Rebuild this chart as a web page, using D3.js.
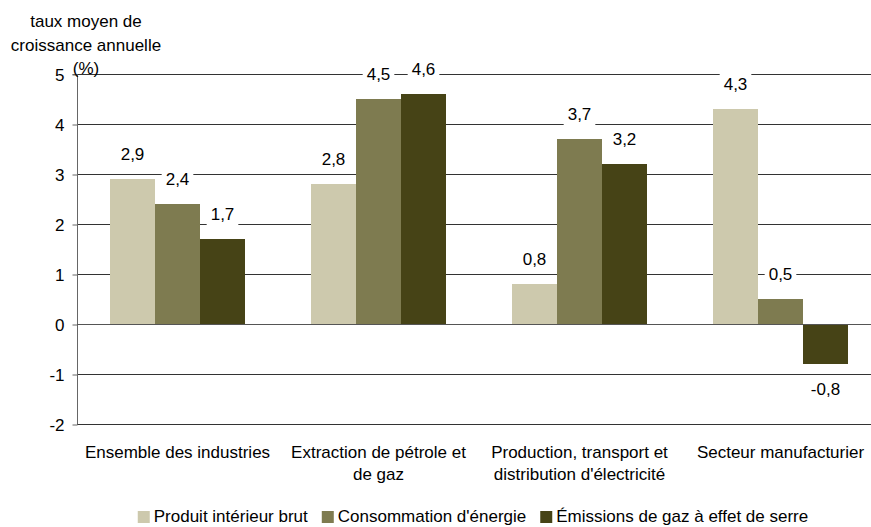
<!DOCTYPE html>
<html>
<head>
<meta charset="utf-8">
<script src="https://cdn.jsdelivr.net/npm/d3@7"></script>
<style>
  html, body { margin: 0; padding: 0; background: #fff; }
  svg { display: block; font-family: "Liberation Sans", Arial, sans-serif; }
</style>
</head>
<body>
<svg id="chart" width="871" height="527"></svg>
<script>
const categories = [
  ["Ensemble des industries"],
  ["Extraction de pétrole et", "de gaz"],
  ["Production, transport et", "distribution d'électricité"],
  ["Secteur manufacturier"]
];
const seriesNames = ["Produit intérieur brut", "Consommation d'énergie", "Émissions de gaz à effet de serre"];
const pib = [2.9, 2.8, 0.8, 4.3];
const energie = [2.4, 4.5, 3.7, 0.5];
const emissions = [1.7, 4.6, 3.2, -0.8];
const yTicks = [-2, -1, 0, 1, 2, 3, 4, 5];
const yTitle = ["taux moyen de", "croissance annuelle", "(%)"];
const colors = ["#cdc9ad", "#7e7b50", "#464316"];

const seriesValues = [pib, energie, emissions];
const svg = d3.select("#chart");
const FS = 17;

const catKeys = categories.map((c, i) => i);
const x = d3.scaleBand().domain(catKeys).range([77, 881]).padding(0);
const xs = d3.scaleBand().domain(d3.range(seriesNames.length)).range([33, 168]).padding(0);
const y = d3.scaleLinear().domain([-2, 5]).range([424, 74]);

// gridlines
svg.append("g").selectAll("line").data(yTicks).join("line")
  .attr("x1", 77).attr("x2", 881)
  .attr("y1", d => Math.round(y(d)) + 0.5).attr("y2", d => Math.round(y(d)) + 0.5)
  .attr("stroke", d => d === 0 ? "#555" : "#333").attr("stroke-width", 1);

// y axis
const yAxis = d3.axisLeft(y).tickValues(yTicks).tickSize(5).tickPadding(8)
  .tickFormat(d => d3.format("d")(d).replace("−", "-"));
const gy = svg.append("g").attr("transform", "translate(77.5,0.5)").call(yAxis);
gy.select(".domain").attr("stroke", "#666").attr("d", `M-5,${y(5)}H0V${y(-2)}`);
gy.selectAll(".tick line").attr("stroke", "#666");
gy.selectAll(".tick text").attr("font-size", FS).attr("fill", "#000")
  .attr("font-family", "Liberation Sans, Arial, sans-serif").attr("dy", "0.35em");

// bars
const barData = [];
seriesValues.forEach((vals, s) => vals.forEach((v, c) => barData.push({ s, c, v })));
svg.append("g").selectAll("rect").data(barData).join("rect")
  .attr("x", d => x(d.c) + xs(d.s))
  .attr("width", xs.bandwidth())
  .attr("y", d => y(Math.max(0, d.v)))
  .attr("height", d => Math.abs(y(d.v) - y(0)))
  .attr("fill", d => colors[d.s]);

// zero line over bars
svg.append("line").attr("x1", 77).attr("x2", 881)
  .attr("y1", Math.round(y(0)) + 0.5).attr("y2", Math.round(y(0)) + 0.5)
  .attr("stroke", "#555");

// value labels
const fmt = v => d3.format(".1f")(v).replace(".", ",").replace("−", "-");
const lg = svg.append("g");
barData.forEach(d => {
  const cx = x(d.c) + xs(d.s) + xs.bandwidth() / 2;
  const cy = d.v >= 0 ? y(d.v) - 25 : y(d.v) + 25;
  const g = lg.append("g");
  const r = g.append("rect").attr("fill", "#fff");
  const t = g.append("text").attr("x", cx).attr("y", cy).attr("dy", "0.35em")
    .attr("text-anchor", "middle").attr("font-size", FS).attr("fill", "#000").text(fmt(d.v));
  const w = t.node().getComputedTextLength();
  r.attr("x", cx - w / 2 - 4).attr("width", w + 8).attr("y", cy - 12).attr("height", 24);
});

// category labels
const cg = svg.append("g");
categories.forEach((lines, i) => {
  const t = cg.append("text").attr("text-anchor", "middle").attr("font-size", FS).attr("fill", "#000");
  lines.forEach((ln, j) => {
    t.append("tspan").attr("x", x(i) + 100.5).attr("y", 458 + j * 21.5).text(ln);
  });
});

// y title
const tt = svg.append("text").attr("text-anchor", "middle").attr("font-size", FS).attr("fill", "#000");
yTitle.forEach((ln, j) => tt.append("tspan").attr("x", 86).attr("y", 27 + j * 23.5).text(ln));

// legend
const GAP = 14;
const leg = svg.append("g");
let cursor = 0;
seriesNames.forEach((name, i) => {
  const g = leg.append("g");
  g.append("rect").attr("x", cursor).attr("y", -11).attr("width", 12).attr("height", 12).attr("fill", colors[i]);
  const t = g.append("text").attr("x", cursor + 16).attr("y", 0).attr("font-size", FS).attr("fill", "#000").text(name);
  cursor += 16 + t.node().getComputedTextLength() + GAP;
});
const totalW = cursor - GAP;
leg.attr("transform", `translate(${473 - totalW / 2},522)`);
</script>
</body>
</html>
